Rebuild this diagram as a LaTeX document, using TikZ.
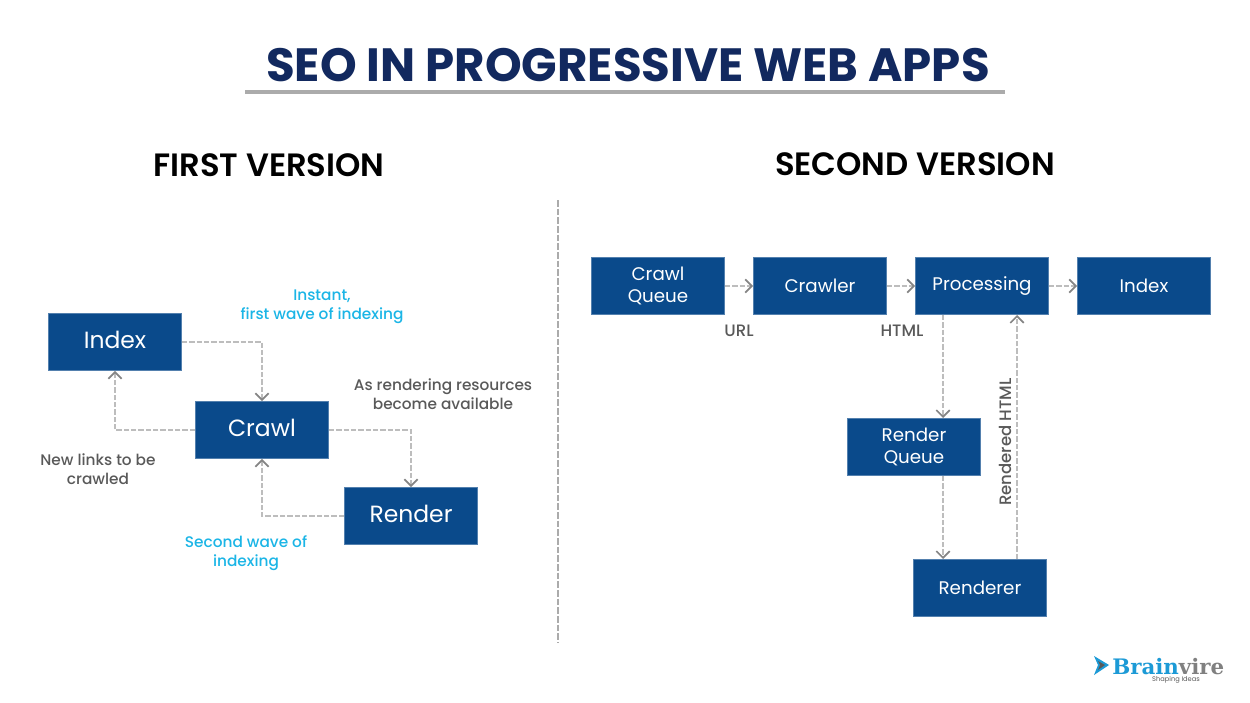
\documentclass[tikz,border=0pt]{standalone}
\usepackage{fontspec}
\setmainfont{Poppins}
\newfontfamily\mediumfont{Poppins Medium}
\newfontfamily\semifont{Poppins SemiBold}
\newfontfamily\logofont{DejaVu Serif}
\usetikzlibrary{arrows.meta}
\definecolor{boxblue}{HTML}{0A4A8B}
\definecolor{navy}{HTML}{12295F}
\definecolor{linegray}{HTML}{BDBDBD}
\definecolor{rulegray}{HTML}{ABABAB}
\definecolor{tipgray}{HTML}{858585}
\definecolor{notegray}{HTML}{595959}
\definecolor{wavecyan}{HTML}{1BB5E6}
\definecolor{logoblue}{HTML}{1C9AD6}
\tikzset{
  bigbox/.style={fill=boxblue,draw=boxblue!70!white,line width=0.4pt,text=white,minimum width=100pt,minimum height=43pt,inner sep=0pt,align=center,text depth=3pt,font=\fontsize{17.6}{19}\selectfont},
  smallbox/.style={bigbox,text depth={},font=\fontsize{13.7}{16}\selectfont},
  link/.style={draw=linegray,dash pattern=on 4pt off 1.5pt,line width=1pt,-{Straight Barb[length=5pt,width=10pt,color=tipgray,line width=1.3pt]}},
  note/.style={text=notegray,align=center,inner sep=0pt,font=\fontsize{11.5}{14.2}\selectfont\mediumfont},
  wave/.style={note,text=wavecyan},
  tag/.style={note,font=\fontsize{12.4}{14}\selectfont\mediumfont},
  heading/.style={text=black,inner sep=0pt,font=\fontsize{24.2}{28}\selectfont\semifont}
}
\begin{document}
\begin{tikzpicture}[x=0.75pt,y=0.75pt,yscale=-1,xscale=1]
\useasboundingbox (0,0) rectangle (1250,703);

% title
\node (title) [inner sep=0pt,text=navy,font=\fontsize{35}{40}\selectfont\bfseries] at (628,65) {SEO IN PROGRESSIVE WEB APPS};
\coordinate (ruleleft) at (245,92);
\coordinate (ruleright) at (1005,92);
\draw [rulegray,line width=2.5pt] (ruleleft) -- (ruleright);
\node (firsthead) [heading] at (269,165) {FIRST VERSION};
\node (secondhead) [heading] at (915,164) {SECOND VERSION};

% divider
\coordinate (divtop) at (558,200);
\coordinate (divbottom) at (558,643);
\draw [rulegray,dash pattern=on 5pt off 1.5pt,line width=1pt] (divtop) -- (divbottom);

% first version
\node (index) [bigbox] at (115,342) {Index};
\node (crawl) [bigbox] at (262,430) {Crawl};
\node (render) [bigbox] at (411,516) {Render};
\draw [link] (index.east) -| (crawl.north);
\draw [link] (crawl.west) -| (index.south);
\draw [link] (crawl.east) -| (render.north);
\draw [link] (render.west) -| (crawl.south);
\node (instant) [wave] at (322,307) {Instant,\\first wave of indexing};
\node (resources) [note] at (443,394) {As rendering resources\\become available};
\node (newlinks) [note] at (98,469) {New links to be\\crawled};
\node (secondwave) [wave] at (246,553) {Second wave of\\indexing};

% second version
\node (crawlqueue) [smallbox] at (658,286) {Crawl\\Queue};
\node (crawler) [smallbox] at (820,286) {Crawler};
\node (processing) [smallbox] at (982,286) {Processing};
\node (indexright) [smallbox] at (1144,286) {Index};
\node (renderqueue) [smallbox] at (914,447) {Render\\Queue};
\node (renderer) [smallbox] at (980,588) {Renderer};
\draw [link] (crawlqueue) -- (crawler);
\draw [link] (crawler) -- (processing);
\draw [link] (processing) -- (indexright);
\coordinate (procout) at (943,315);
\coordinate (rqin) at (943,418);
\coordinate (rqout) at (943,476);
\coordinate (rrin) at (943,559);
\coordinate (rrout) at (1017,559);
\coordinate (procin) at (1017,315);
\draw [link] (procout) -- (rqin);
\draw [link] (rqout) -- (rrin);
\draw [link] (rrout) -- (procin);
\node (urltag) [tag] at (739,331) {URL};
\node (htmltag) [tag] at (902,331) {HTML};
\node (renderedtag) [tag,rotate=90] at (1005,442) {Rendered HTML};

% logo
\fill [logoblue] (1094,656) -- (1109,665) -- (1094,675) -- (1098,665) -- cycle;
\fill [notegray] (1098,661) -- (1105,665) -- (1098,670) -- (1100,665) -- cycle;
\node (logoname) [anchor=base west,inner sep=0pt,font=\fontsize{16}{18}\selectfont\logofont\bfseries] at (1112,674) {\textcolor{logoblue}{Brain}\textcolor{gray}{vire}};
\node (logotag) [inner sep=0pt,text=notegray,font=\fontsize{5}{6}\selectfont] at (1176,680) {Shaping Ideas};
\end{tikzpicture}
\end{document}
